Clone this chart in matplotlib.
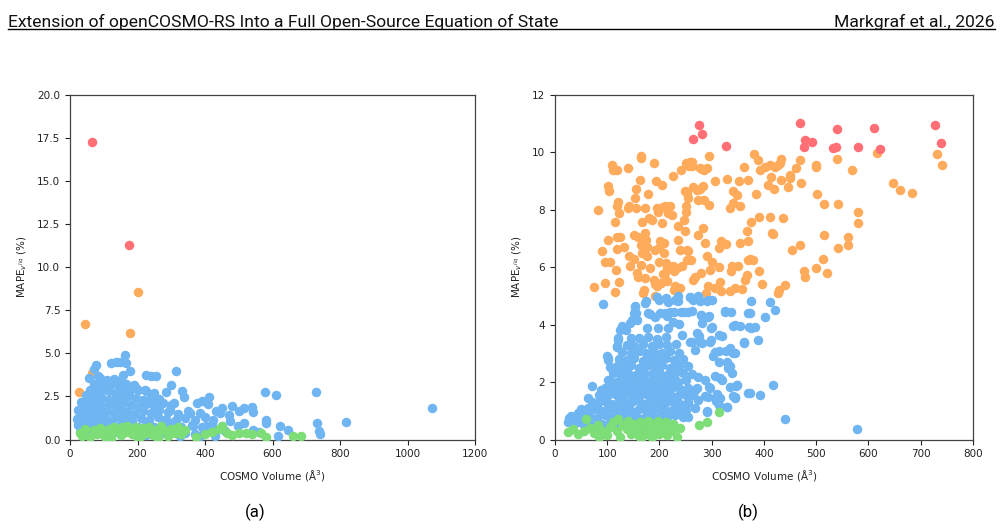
import matplotlib
matplotlib.use("Agg")
import matplotlib.pyplot as plt
from matplotlib.lines import Line2D

BLUE = "#6fb5f1"
ORANGE = "#ffab5c"
RED = "#ff6f75"
GREEN = "#7ddd77"

# ---------------- panel (a) data ----------------
a_red_x = [64, 176]
a_red_y = [17.28, 11.28]

a_orange_x = [26, 44, 202, 178, 64, 107, 87, 82, 139, 158, 151, 135, 88]
a_orange_y = [2.75, 6.72, 8.58, 6.18, 3.85, 3.3, 2.45, 2.12, 2.53, 2.65, 1.52, 2.47, 2.47]

a_blue_x = [1072, 817, 729, 732, 738, 742, 646, 622, 617, 610, 579, 582, 582, 560, 543, 543,
            538, 515, 516, 500, 498, 480, 472, 474, 449, 444, 432, 424, 412, 409, 392, 375,
            385, 404, 429, 315, 298, 283, 333, 338, 307, 296, 226, 241, 254, 157, 177, 167,
            162, 120, 137, 149, 78, 71, 56, 83, 34, 24, 21, 48, 266, 241, 221, 197, 108, 147,
            355, 365, 315, 335, 286, 266, 226, 325, 385,
            # dense core
            30, 45, 60, 80, 100, 120, 145, 170, 195, 220, 250, 280, 310, 340, 370, 400, 430, 460,
            25, 40, 55, 70, 90, 110, 130, 150, 175, 200, 225, 250, 275, 300, 330, 360, 390, 420, 450,
            25, 40, 55, 70, 85, 105, 125, 145, 165, 185, 210, 235, 260, 285, 310, 340, 370, 400,
            30, 45, 60, 75, 90, 110, 130, 150, 170, 190, 215, 240, 265, 290, 320, 350,
            40, 55, 70, 85, 100, 120, 140, 160, 180, 200, 225, 250, 275, 300,
            50, 65, 80, 95, 115, 135, 155, 175, 195, 215, 240, 265,
            60, 75, 95, 115, 135, 155, 175, 200, 225, 250,
            70, 85, 105, 125, 145, 165, 190,
            90, 110, 130, 150]
a_blue_y = [1.84, 1.0, 2.76, 0.93, 0.48, 0.33, 0.54, 0.77, 0.23, 2.57, 2.76, 1.16, 0.93, 0.43, 0.58, 1.58,
            1.89, 1.84, 0.97, 1.64, 0.77, 1.93, 1.45, 1.06, 1.84, 1.55, 1.64, 1.16, 2.47, 2.09, 2.22, 2.13,
            1.55, 0.77, 0.23, 3.96, 3.19, 2.76, 2.84, 2.47, 2.13, 1.74, 3.77, 3.67, 3.67, 3.77, 3.96, 4.44,
            4.93, 4.44, 4.48, 4.48, 4.33, 4.1, 3.57, 3.67, 2.16, 1.74, 1.2, 2.61, 2.13, 2.32, 2.9, 3.0, 3.38, 3.38,
            1.55, 0.77, 1.16, 0.58, 0.77, 0.39, 0.29, 0.19, 0.23,
            0.45, 0.35, 0.5, 0.4, 0.3, 0.45, 0.35, 0.5, 0.4, 0.3, 0.45, 0.35, 0.5, 0.4, 0.3, 0.45, 0.35, 0.5,
            0.85, 0.75, 0.9, 0.8, 0.7, 0.85, 0.75, 0.9, 0.8, 0.7, 0.85, 0.75, 0.9, 0.8, 0.7, 0.85, 0.75, 0.9, 0.8,
            1.25, 1.15, 1.3, 1.2, 1.1, 1.25, 1.15, 1.3, 1.2, 1.1, 1.25, 1.15, 1.3, 1.2, 1.1, 1.25, 1.15, 1.3,
            1.65, 1.55, 1.7, 1.6, 1.5, 1.65, 1.55, 1.7, 1.6, 1.5, 1.65, 1.55, 1.7, 1.6, 1.5, 1.65,
            2.05, 1.95, 2.1, 2.0, 1.9, 2.05, 1.95, 2.1, 2.0, 1.9, 2.05, 1.95, 2.1, 2.0,
            2.45, 2.35, 2.5, 2.4, 2.3, 2.45, 2.35, 2.5, 2.4, 2.3, 2.45, 2.35,
            2.85, 2.75, 2.9, 2.8, 2.7, 2.85, 2.75, 2.9, 2.8, 2.7,
            3.25, 3.15, 3.3, 3.2, 3.1, 3.25, 3.15,
            3.55, 3.45, 3.5, 3.45]

a_green_x = [30, 35, 45, 60, 70, 80, 90, 100, 105, 115, 125, 130, 140, 150, 155, 165, 170, 180, 185,
             195, 200, 210, 215, 225, 235, 245, 250, 260, 270, 280, 290, 300, 310, 320, 330, 340,
             372, 400, 420, 440, 450, 465, 480, 500, 520, 540, 565, 580, 660, 685, 120, 200, 260]
a_green_y = [0.35, 0.2, 0.6, 0.15, 0.55, 0.3, 0.65, 0.4, 0.15, 0.6, 0.35, 0.7, 0.5, 0.25, 0.7, 0.45,
             0.8, 0.6, 0.3, 0.75, 0.5, 0.2, 0.65, 0.4, 0.7, 0.25, 0.55, 0.35, 0.8, 0.5, 0.2, 0.6, 0.4,
             0.7, 0.3, 0.55, 0.15, 0.3, 0.45, 0.6, 0.8, 0.4, 0.25, 0.35, 0.4, 0.3, 0.4, 0.15, 0.18,
             0.23, 0.05, 0.05, 0.05]

# ---------------- panel (b) data ----------------
b_red_x = [276, 281, 264, 328, 469, 478, 476, 492, 532, 537, 540, 580, 610, 622, 727, 739]
b_red_y = [10.96, 10.63, 10.46, 10.24, 11.01, 10.42, 10.18, 10.37, 10.17, 10.2, 10.81, 10.18,
           10.86, 10.13, 10.94, 10.34]

b_orange_x = [74, 83, 90, 95, 95, 101, 102, 103, 109, 111, 114, 114, 116, 106, 119, 118, 119, 121,
              122, 122, 118, 124, 133, 139, 140, 142, 144, 142, 151, 152, 154, 155, 156, 157, 159,
              158, 163, 164, 164, 165, 165, 166, 166, 168, 170, 170, 172, 172, 173, 174, 176, 176,
              179, 180, 182, 186, 189, 190, 191, 192, 192, 193, 195, 195, 198, 199, 200, 201, 203,
              205, 205, 206, 206, 208, 209, 211, 211, 212, 214, 215, 217, 220, 224, 226, 225, 227,
              228, 230, 233, 236, 236, 239, 240, 241, 243, 246, 248, 249, 250, 250, 251, 252, 252,
              253, 255, 255, 257, 259, 260, 263, 263, 264, 265, 268, 271, 273, 274, 278, 278, 280,
              282, 283, 284, 285, 286, 287, 289, 290, 291, 292, 294, 295, 296, 300, 306, 306, 313,
              314, 316, 318, 318, 328, 330, 335, 335, 337, 339, 340, 341, 344, 349, 350, 352, 354,
              355, 357, 362, 363, 367, 370, 368, 370, 370, 374, 376, 379, 381, 384, 389, 390, 391,
              392, 397, 402, 408, 411, 412, 414, 416, 417, 419, 421, 426, 427, 429, 430, 433, 433,
              436, 441, 446, 449, 450, 454, 461, 468, 470, 468, 476, 479, 499, 500, 502, 500, 513,
              514, 515, 520, 540, 541, 541, 560, 560, 568, 580, 579, 616, 646, 661, 683, 731, 740]
b_orange_y = [5.31, 8.0, 6.56, 5.46, 6.2, 6.96, 8.83, 8.66, 9.57, 9.37, 7.56, 5.14, 5.91, 6.17,
              9.39, 8.12, 7.04, 8.29, 7.88, 5.48, 6.63, 7.07, 6.72, 9.47, 8.05, 6.38, 6.03, 8.12,
              7.11, 6.28, 8.41, 8.72, 8.06, 5.8, 5.66, 7.07, 9.04, 9.79, 9.86, 6.09, 6.78, 7.59,
              6.49, 5.1, 5.22, 7.07, 8.06, 7.19, 5.62, 6.96, 6.72, 6.38, 8.55, 7.71, 5.97, 7.65,
              9.62, 5.57, 5.41, 5.01, 6.61, 9.02, 8.06, 5.33, 7.94, 6.67, 6.2, 6.92, 5.45, 8.87,
              7.54, 8.09, 5.76, 6.84, 6.49, 8.14, 5.8, 6.14, 5.51, 5.97, 7.88, 8.12, 7.83, 9.18,
              6.03, 5.22, 5.86, 5.33, 5.97, 7.42, 6.96, 6.61, 5.28, 9.39, 6.03, 7.65, 7.27, 8.66,
              8.12, 7.91, 9.62, 8.58, 6.61, 6.26, 8.41, 6.55, 9.51, 9.68, 6.26, 9.51, 9.68, 8.81,
              5.57, 5.65, 8.7, 7.13, 8.35, 8.72, 9.45, 5.8, 9.41, 8.83, 7.36, 8.35, 9.39, 6.84,
              5.1, 9.45, 6.38, 5.36, 8.17, 9.86, 5.89, 6.17, 8.99, 5.28, 6.67, 6.01, 5.47, 5.16,
              6.93, 6.82, 9.09, 8.06, 5.18, 5.86, 6.05, 8.64, 8.23, 5.28, 8.5, 6.05, 9.02, 8.14,
              6.84, 5.24, 9.48, 5.57, 7.25, 9.04, 5.74, 6.26, 6.93, 6.28, 7.59, 6.26, 9.95, 8.55,
              9.74, 5.88, 7.74, 9.39, 5.43, 9.48, 8.87, 7.74, 9.57, 9.16, 7.21, 7.17, 8.72, 9.48,
              5.1, 9.57, 5.22, 9.62, 9.76, 9.04, 7.71, 5.37, 8.81, 9.22, 9.11, 6.61, 9.45, 9.74,
              8.93, 6.77, 5.86, 5.66, 9.48, 9.57, 8.55, 5.96, 6.28, 8.21, 7.13, 5.8, 9.76, 8.2,
              6.67, 6.78, 7.04, 9.37, 7.93, 7.54, 9.99, 8.95, 8.7, 8.58, 9.95, 9.57]

b_blue_x = [92, 174, 195, 200, 213, 217, 235, 235, 259, 264, 274, 277, 290, 300, 376, 411, 421, 402,
            370, 337, 325, 295, 280, 262, 246, 227, 214, 201, 182, 154, 151, 144, 128, 125, 120,
            118, 100, 102, 157, 176, 197, 217, 238, 244, 259, 276, 281, 298, 299, 313, 319, 341,
            354, 371, 382, 362, 389, 335, 313, 303, 328, 341, 335, 339, 316, 306, 349, 346, 417,
            341, 344, 370, 392, 310, 308, 330, 290, 288, 295, 441, 578,
            26, 35, 45, 51, 64, 64, 71, 88, 89, 101, 101, 105, 118, 121, 128, 135, 147, 153, 156,
            172, 179, 191, 211, 220, 226, 230, 242, 255, 258, 274, 279, 281, 293, 293, 300, 297,
            278, 271, 268, 262, 306, 313, 329, 332, 344, 362, 325, 344, 373, 376, 319, 335, 348,
            373, 344, 316, 309, 293, 287, 274, 297, 329, 313, 290, 268, 274, 268, 255, 242, 255, 236,
            # dense core
            25, 35, 45, 55, 65, 75, 90, 105, 120, 135, 150, 165, 180, 195, 210, 225,
            30, 42, 55, 68, 80, 95, 110, 125, 140, 155, 170, 185, 200, 215, 230, 245,
            50, 62, 75, 88, 100, 115, 130, 145, 160, 175, 190, 205, 220, 235, 250,
            70, 82, 95, 108, 120, 135, 150, 165, 180, 195, 210, 225, 240, 255,
            85, 100, 115, 130, 145, 160, 175, 190, 205, 220, 235, 250, 265,
            95, 110, 122, 135, 150, 165, 180, 195, 210, 225, 240, 255, 272,
            105, 118, 130, 145, 160, 175, 190, 205, 220, 235, 250,
            112, 125, 140, 155, 170, 185, 200, 215, 230, 245, 262,
            118, 130, 145, 160, 175, 190, 205, 220, 238, 255,
            122, 138, 152, 168, 183, 198, 213, 228, 245,
            128, 145, 160, 175, 190, 205, 220, 238,
            138, 152, 168, 185, 200, 215, 232,
            145, 160, 178, 195, 212,
            # fill between the rows
            112, 142, 172, 202, 232, 127, 157, 187, 217, 247, 137, 167, 197, 227,
            142, 172, 202, 232, 152, 182, 212, 132, 162, 192, 222]
b_blue_y = [4.73, 4.81, 4.98, 4.87, 4.93, 4.79, 4.99, 4.81, 4.96, 4.87, 5.0, 4.81, 4.81, 4.87, 4.83,
            4.78, 4.52, 4.26, 4.4, 4.43, 4.49, 4.29, 4.35, 4.49, 4.44, 4.44, 4.29, 4.41, 4.37, 4.64,
            4.41, 4.06, 3.94, 3.83, 3.54, 3.25, 2.9, 2.78, 4.17, 3.88, 3.9, 3.88, 4.02, 3.65, 3.4,
            3.59, 3.36, 3.88, 3.48, 3.65, 3.59, 3.97, 3.94, 3.92, 3.92, 3.39, 3.48, 3.19, 3.07, 2.9,
            3.07, 3.01, 2.55, 2.32, 2.14, 2.2, 1.91, 1.86, 1.91, 1.53, 1.45, 1.62, 1.55, 1.57, 1.33,
            1.12, 0.99, 1.53, 1.83, 0.7, 0.37,
            0.74, 0.8, 0.91, 1.03, 1.09, 1.43, 1.86, 1.4, 1.72, 2.07, 2.83, 2.54, 3.23, 3.47, 3.93,
            3.81, 4.16, 4.63, 4.4, 4.74, 4.4, 4.28, 4.4, 4.45, 4.1, 4.86, 4.45, 4.45, 4.98, 4.98,
            4.34, 4.05, 4.28, 4.86, 3.93, 3.41, 3.41, 3.7, 3.12, 3.41, 3.06, 2.71, 2.71, 2.48, 3.0,
            3.35, 4.45, 3.99, 4.4, 3.87, 2.07, 1.84, 1.9, 1.61, 1.49, 1.43, 1.49, 1.49, 2.07, 2.19,
            1.78, 1.14, 1.2, 0.97, 1.72, 1.38, 1.09, 1.26, 1.03, 0.8, 0.97,
            0.6, 0.52, 0.62, 0.5, 0.58, 0.48, 0.55, 0.62, 0.5, 0.57, 0.6, 0.52, 0.58, 0.5, 0.62, 0.55,
            0.82, 0.78, 0.85, 0.8, 0.76, 0.84, 0.8, 0.78, 0.85, 0.82, 0.76, 0.84, 0.8, 0.78, 0.85, 0.8,
            1.05, 1.02, 1.08, 1.0, 1.06, 1.03, 1.08, 1.0, 1.05, 1.02, 1.07, 1.04, 1.0, 1.06, 1.03,
            1.3, 1.27, 1.33, 1.25, 1.3, 1.28, 1.34, 1.26, 1.3, 1.32, 1.27, 1.31, 1.25, 1.3,
            1.55, 1.52, 1.58, 1.5, 1.56, 1.53, 1.58, 1.5, 1.55, 1.57, 1.52, 1.56, 1.54,
            1.8, 1.77, 1.83, 1.75, 1.81, 1.78, 1.84, 1.76, 1.8, 1.82, 1.77, 1.81, 1.78,
            2.05, 2.02, 2.08, 2.0, 2.06, 2.03, 2.08, 2.0, 2.05, 2.02, 2.07,
            2.3, 2.27, 2.33, 2.25, 2.31, 2.28, 2.34, 2.26, 2.3, 2.32, 2.27,
            2.55, 2.52, 2.58, 2.5, 2.56, 2.53, 2.58, 2.5, 2.55, 2.57,
            2.8, 2.77, 2.83, 2.75, 2.81, 2.78, 2.84, 2.76, 2.8,
            3.05, 3.02, 3.08, 3.0, 3.06, 3.03, 3.08, 3.0,
            3.3, 3.27, 3.33, 3.25, 3.31, 3.28, 3.34,
            3.55, 3.52, 3.58, 3.5, 3.56,
            1.17, 1.15, 1.2, 1.18, 1.16, 1.68, 1.7, 1.66, 1.69, 1.67, 2.18, 2.16, 2.2, 2.17,
            2.68, 2.66, 2.7, 2.67, 1.42, 1.44, 1.41, 1.93, 1.95, 1.92, 1.94]

b_green_x = [25, 35, 45, 55, 60, 68, 75, 82, 90, 100, 105, 112, 118, 125, 130, 138, 145, 150, 155,
             160, 163, 168, 172, 175, 178, 182, 185, 188, 192, 195, 198, 200, 205, 208, 212, 215,
             218, 222, 225, 230, 234, 239, 276, 290, 314, 165, 140, 85, 120]
b_green_y = [0.25, 0.35, 0.2, 0.3, 0.7, 0.4, 0.22, 0.5, 0.3, 0.15, 0.45, 0.6, 0.3, 0.1, 0.5, 0.35,
             0.2, 0.55, 0.4, 0.12, 0.6, 0.3, 0.5, 0.2, 0.65, 0.4, 0.1, 0.55, 0.3, 0.45, 0.65, 0.2,
             0.5, 0.35, 0.6, 0.15, 0.45, 0.3, 0.55, 0.4, 0.1, 0.39, 0.5, 0.62, 0.95, 0.05, 0.65,
             0.1, 0.7]

fig = plt.figure(figsize=(10.03, 5.28), dpi=100)

# page header
fig.text(0.008, 0.958, "Extension of openCOSMO-RS Into a Full Open-Source Equation of State",
         family="Roboto", fontsize=12.6, va="center", ha="left", color="#111111")
fig.text(0.992, 0.958, "Markgraf et al., 2026", family="Roboto", fontsize=12.6,
         va="center", ha="right", color="#111111")
fig.add_artist(Line2D([0.008, 0.992], [0.945, 0.945], color="black", lw=1.0,
                      transform=fig.transFigure))

ax1 = fig.add_axes([0.0698, 0.1676, 0.4038, 0.6525])
ax2 = fig.add_axes([0.5533, 0.1676, 0.4168, 0.6525])

ax1.scatter(a_orange_x, a_orange_y, color=ORANGE, s=34, zorder=2)
ax1.scatter(a_red_x, a_red_y, color=RED, s=34, zorder=2)
ax1.scatter(a_blue_x, a_blue_y, color=BLUE, s=34, zorder=3)
ax1.scatter(a_green_x, a_green_y, color=GREEN, s=34, zorder=4)
ax1.set_xlim(0, 1200)
ax1.set_ylim(0, 20)
ax1.set_xticks([0, 200, 400, 600, 800, 1000, 1200])
ax1.set_yticks([0, 2.5, 5, 7.5, 10, 12.5, 15, 17.5, 20])
ax1.set_yticklabels(["0.0", "2.5", "5.0", "7.5", "10.0", "12.5", "15.0", "17.5", "20.0"])

ax2.scatter(b_orange_x, b_orange_y, color=ORANGE, s=34, zorder=2)
ax2.scatter(b_red_x, b_red_y, color=RED, s=34, zorder=2)
ax2.scatter(b_blue_x, b_blue_y, color=BLUE, s=34, zorder=3)
ax2.scatter(b_green_x, b_green_y, color=GREEN, s=34, zorder=4)
ax2.set_xlim(0, 800)
ax2.set_ylim(0, 12)
ax2.set_xticks([0, 100, 200, 300, 400, 500, 600, 700, 800])
ax2.set_yticks([0, 2, 4, 6, 8, 10, 12])

for ax in (ax1, ax2):
    ax.tick_params(labelsize=7.5, length=3.5, width=0.8, colors="#222222")
    for sp in ax.spines.values():
        sp.set_linewidth(0.9)
        sp.set_color("#444444")
    ax.set_xlabel("COSMO Volume (Å$^3$)", fontsize=7.5, color="#222222", labelpad=6)
    ax.set_ylabel("MAPE$_{v^{liq}}$ (%)", fontsize=7.5, color="#222222", labelpad=6)

fig.text(0.254, 0.03, "(a)", family="Roboto", fontsize=12, ha="center", va="center")
fig.text(0.746, 0.03, "(b)", family="Roboto", fontsize=12, ha="center", va="center")

fig.savefig("out.png", dpi=100)
